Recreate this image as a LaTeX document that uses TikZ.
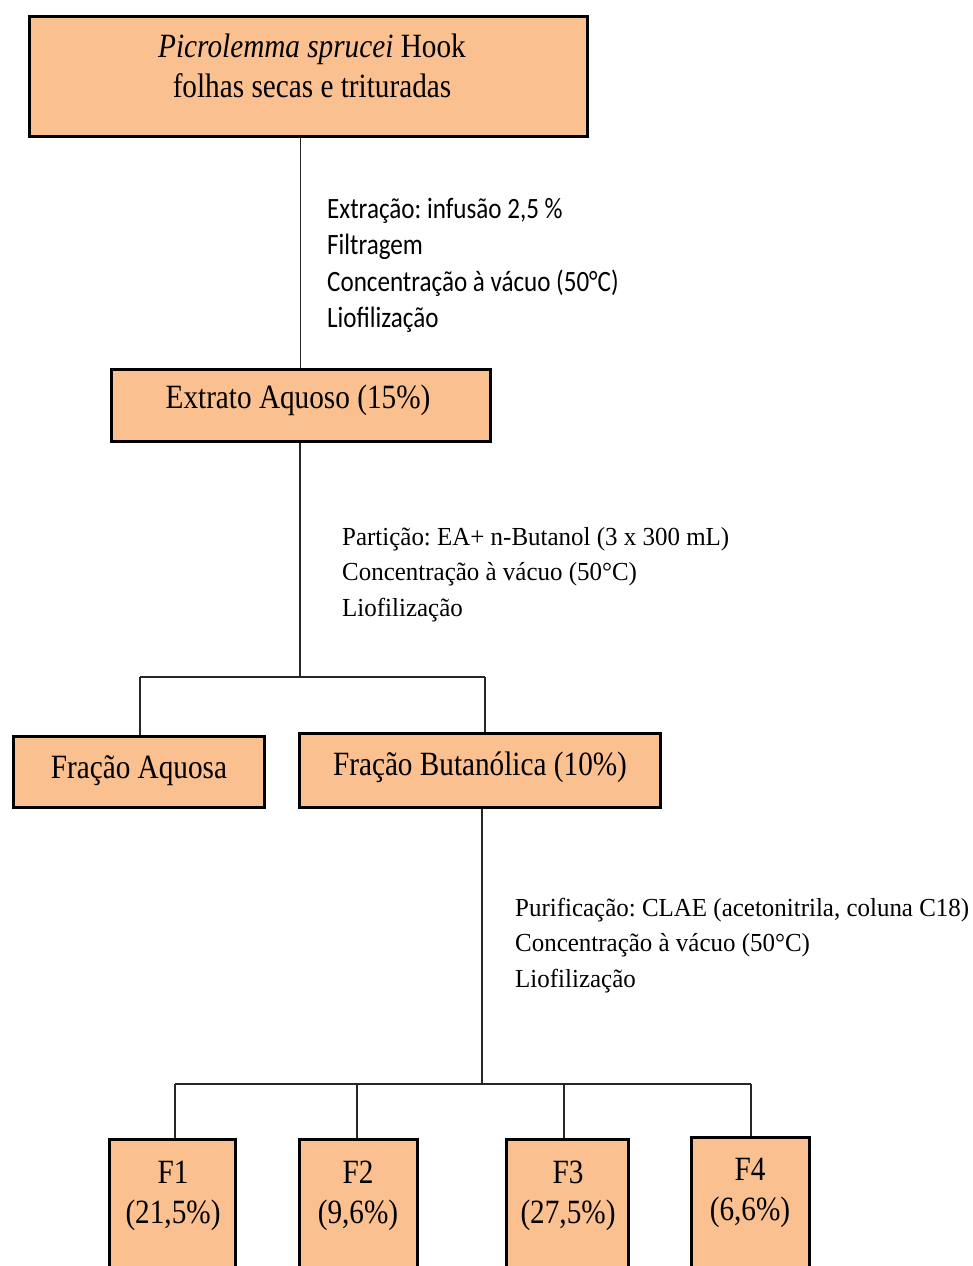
\documentclass[tikz,border=0pt]{standalone}
\usepackage{fontspec}
\setmainfont{Liberation Serif}
\newfontfamily\boxfont[FakeStretch=0.86]{Liberation Serif}
\newfontfamily\notefont[FakeStretch=0.96]{Liberation Serif}
\newfontfamily\sansnote[FakeStretch=0.85]{Carlito}
\definecolor{peach}{HTML}{FAC090}
\frenchspacing
\begin{document}
\begin{tikzpicture}[x=1pt,y=-1pt,
  box/.style={draw=black, line width=3pt, fill=peach, inner sep=0pt},
  conn/.style={line width=1.4pt, draw=black!85},
  btxt/.style={font=\boxfont\fontsize{34}{40}\selectfont, inner sep=0pt, align=center, anchor=base},
  ntxt/.style={font=\notefont\fontsize{26}{35.5}\selectfont, inner sep=0pt, align=left, anchor=base west},
  stxt/.style={font=\sansnote\fontsize{29.5}{36.5}\selectfont, inner sep=0pt, align=left, anchor=base west}]
\clip (0,0) rectangle (973,1266);
\path[use as bounding box] (0,0) rectangle (973,1266);

% boxes
\node[box, minimum width=558pt, minimum height=120pt] (top) at (308,76) {};
\node[box, minimum width=379pt, minimum height=72pt] (extr) at (300.5,405) {};
\node[box, minimum width=251pt, minimum height=71pt] (aq) at (138.5,771.5) {};
\node[box, minimum width=361pt, minimum height=74pt] (but) at (479.5,770) {};
\node[box, minimum width=126pt, minimum height=161pt] (f1) at (172,1219.5) {};
\node[box, minimum width=118pt, minimum height=161pt] (f2) at (358,1219.5) {};
\node[box, minimum width=122pt, minimum height=161pt] (f3) at (567,1219.5) {};
\node[box, minimum width=118pt, minimum height=163pt] (f4) at (750,1218.5) {};

% box texts (base = baseline of the last line)
\node[btxt] (toptxt) at (312,97) {\textit{Picrolemma sprucei} Hook\\folhas secas e trituradas};
\node[btxt] (extrtxt) at (298,408) {Extrato Aquoso (15\%)};
\node[btxt] (aqtxt) at (139,778) {Fração Aquosa};
\node[btxt] (buttxt) at (480,775) {Fração Butanólica (10\%)};
\node[btxt] (f1txt) at (173,1223) {F1\\(21,5\%)};
\node[btxt] (f2txt) at (358,1223) {F2\\(9,6\%)};
\node[btxt] (f3txt) at (568,1223) {F3\\(27,5\%)};
\node[btxt] (f4txt) at (750,1220) {F4\\(6,6\%)};

% annotations
\node[stxt] (n1) at (327,327.5) {Extração: infusão 2,5 \%\\Filtragem\\Concentração à vácuo (50°C)\\Liofilização};
\node[ntxt] (n2) at (342,616) {Partição: EA+ n-Butanol (3 x 300 mL)\\Concentração à vácuo (50°C)\\Liofilização};
\node[ntxt] (n3) at (515,987) {Purificação: CLAE (acetonitrila, coluna C18)\\Concentração à vácuo (50°C)\\Liofilização};

% connectors
\coordinate (j1) at (300,677);
\coordinate (j1l) at (140,677);
\coordinate (j1r) at (485,677);
\coordinate (j2) at (482,1084);
\coordinate (j2a) at (175,1084);
\coordinate (j2b) at (357,1084);
\coordinate (j2c) at (564,1084);
\coordinate (j2d) at (751,1084);

\draw[conn] (extr.north |- top.south) -- (extr.north);
\draw[conn] (extr.south -| j1) -- (j1);
\draw[conn] (j1l) -- (j1r);
\draw[conn] (j1l) -- (j1l |- aq.north);
\draw[conn] (j1r) -- (j1r |- but.north);
\draw[conn] (but.south -| j2) -- (j2);
\draw[conn] (j2a) -- (j2d);
\draw[conn] (j2a) -- (j2a |- f1.north);
\draw[conn] (j2b) -- (j2b |- f2.north);
\draw[conn] (j2c) -- (j2c |- f3.north);
\draw[conn] (j2d) -- (j2d |- f4.north);
\end{tikzpicture}
\end{document}
